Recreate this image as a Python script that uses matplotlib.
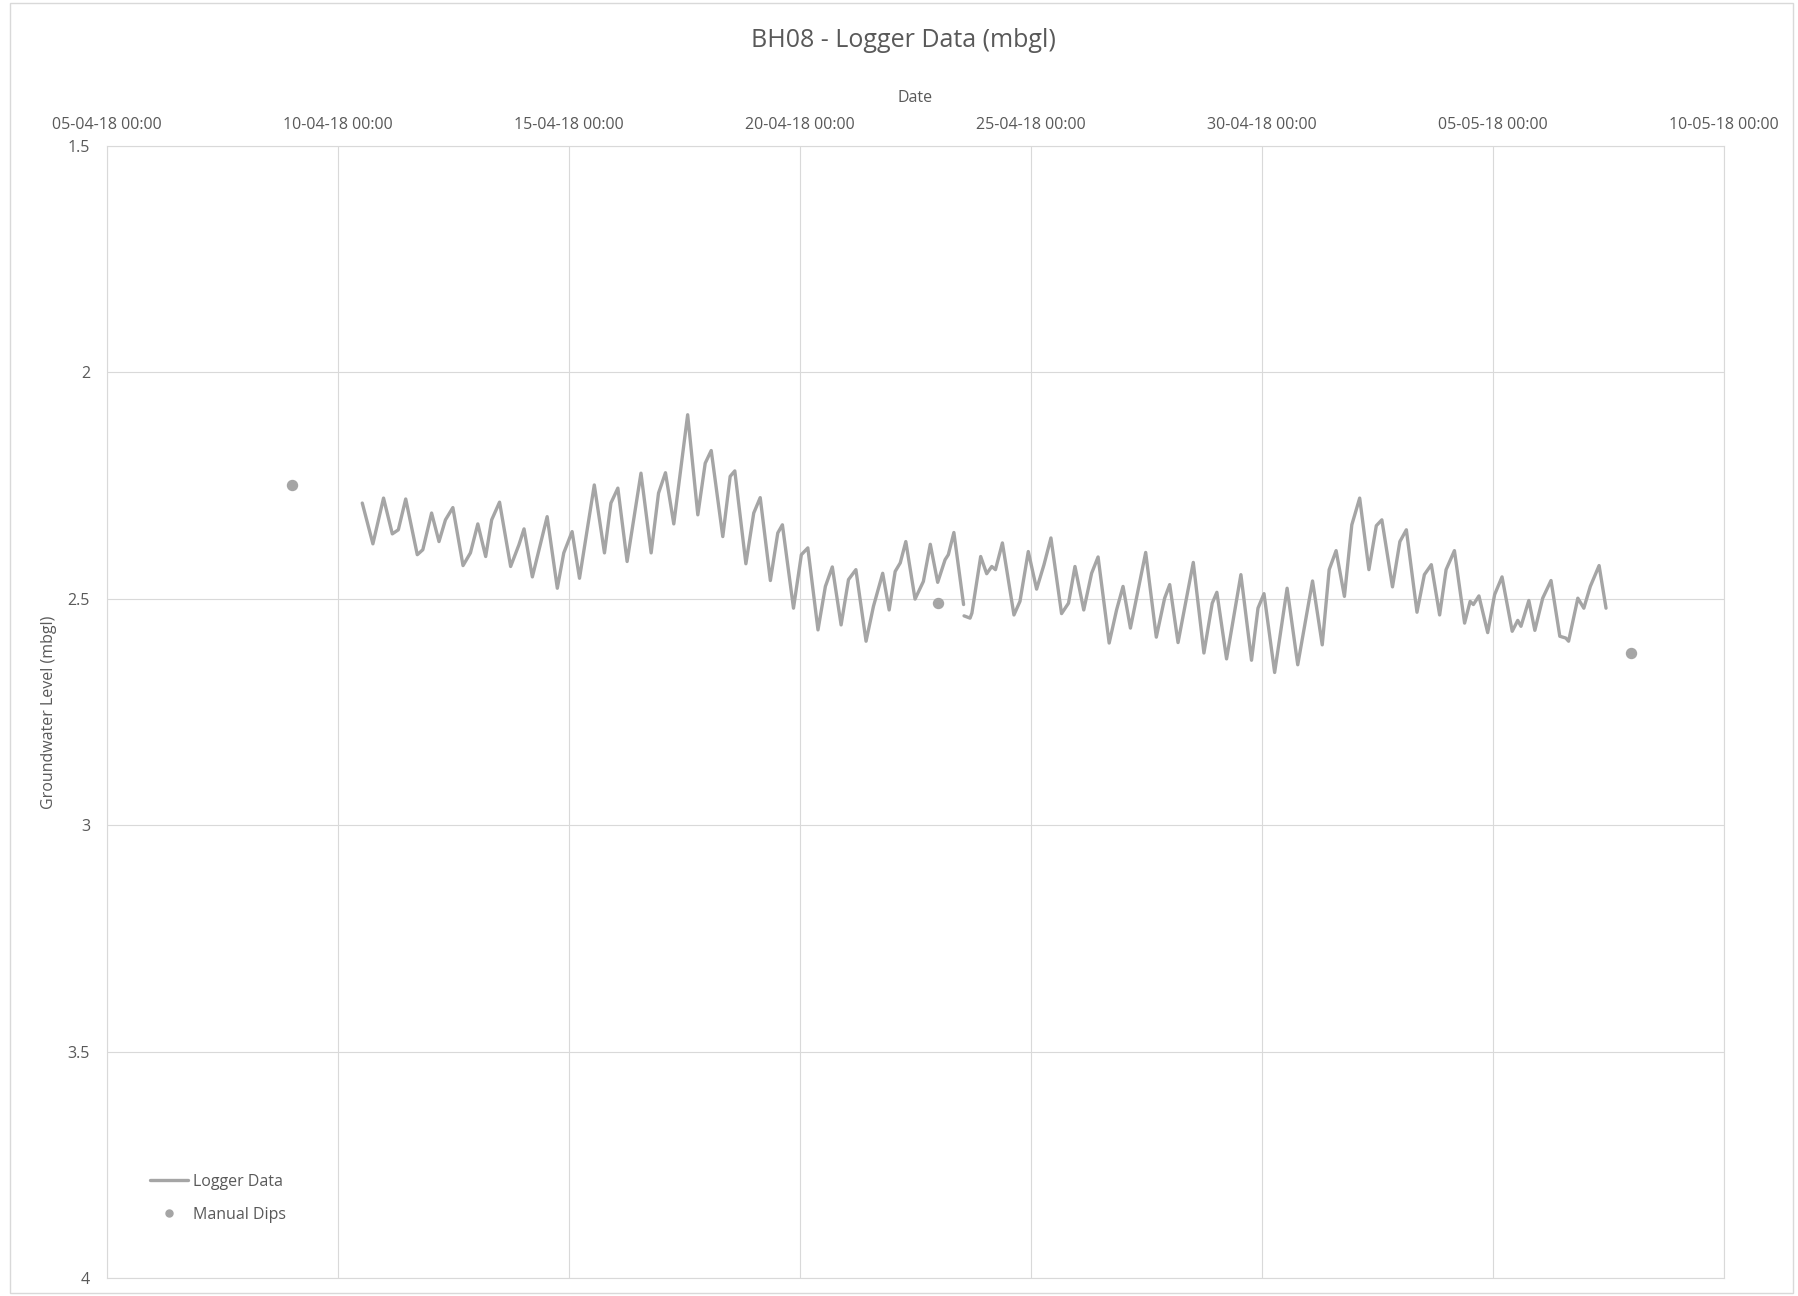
import numpy as np
import pandas as pd
import matplotlib
matplotlib.use('Agg')
from matplotlib import pyplot as plt
import matplotlib.dates as mdates
from matplotlib.patches import Rectangle

plt.rcParams['font.family'] = ['Open Sans', 'DejaVu Sans']

# logger readings: days after 10-04-18 00:00 and level (mbgl)
start = pd.Timestamp('2018-04-10 00:00')
logger_days = [0.53, 0.76, 0.99, 1.18, 1.31, 1.47, 1.72, 1.84, 2.03, 2.19, 2.33, 2.49,
               2.71, 2.87, 3.03, 3.20, 3.33, 3.50, 3.74, 3.92, 4.03, 4.21, 4.53, 4.75,
               4.89, 5.07, 5.23, 5.55, 5.77, 5.91, 6.06, 6.26, 6.56, 6.78, 6.94, 7.09,
               7.27, 7.57, 7.79, 7.95, 8.08, 8.33, 8.49, 8.59, 8.83, 9.00, 9.14, 9.36,
               9.52, 9.62, 9.86, 10.03, 10.17, 10.39, 10.55, 10.70, 10.89, 11.05, 11.21,
               11.43, 11.59, 11.79, 11.93, 12.06, 12.17, 12.29, 12.49, 12.67, 12.82,
               12.98, 13.14, 13.21, 13.33, 13.54, 13.545, 13.55, 13.68, 13.72, 13.91,
               14.04, 14.15, 14.23, 14.38, 14.63, 14.76, 14.94, 15.12, 15.28, 15.43,
               15.66, 15.81, 15.95, 16.14, 16.31, 16.45, 16.69, 16.85, 16.99, 17.15,
               17.48, 17.71, 17.89, 18.00, 18.18, 18.51, 18.74, 18.92, 19.02, 19.23,
               19.54, 19.77, 19.91, 20.04, 20.27, 20.54, 20.77, 21.09, 21.30, 21.45,
               21.60, 21.78, 21.94, 22.11, 22.31, 22.47, 22.59, 22.82, 22.98, 23.12,
               23.35, 23.51, 23.66, 23.84, 23.98, 24.16, 24.38, 24.50, 24.57, 24.69,
               24.88, 25.03, 25.19, 25.41, 25.53, 25.60, 25.77, 25.90, 26.07, 26.25,
               26.44, 26.57, 26.63, 26.83, 26.96, 27.10, 27.29, 27.44]
logger_level = [2.289, 2.379, 2.278, 2.357, 2.348, 2.280, 2.403, 2.392, 2.311, 2.374, 2.326, 2.299,
                2.427, 2.399, 2.335, 2.407, 2.326, 2.287, 2.429, 2.381, 2.346, 2.452, 2.319, 2.477,
                2.399, 2.352, 2.455, 2.249, 2.399, 2.289, 2.256, 2.418, 2.223, 2.399, 2.267, 2.222,
                2.335, 2.094, 2.315, 2.201, 2.173, 2.363, 2.230, 2.218, 2.423, 2.311, 2.277, 2.460,
                2.355, 2.337, 2.521, 2.403, 2.388, 2.569, 2.473, 2.430, 2.558, 2.458, 2.436,
                2.594, 2.517, 2.444, 2.525, 2.440, 2.421, 2.374, 2.501, 2.462, 2.380,
                2.464, 2.414, 2.403, 2.354, 2.513, np.nan, 2.538, 2.543, 2.532, 2.407,
                2.445, 2.429, 2.436, 2.377, 2.536, 2.506, 2.396, 2.479, 2.425, 2.366,
                2.533, 2.510, 2.429, 2.525, 2.444, 2.408, 2.598, 2.525, 2.473, 2.565,
                2.398, 2.585, 2.499, 2.469, 2.597, 2.420, 2.620, 2.510, 2.486, 2.633,
                2.447, 2.636, 2.521, 2.489, 2.663, 2.477, 2.646, 2.461, 2.602, 2.436,
                2.394, 2.495, 2.337, 2.278, 2.436, 2.339, 2.326, 2.474, 2.374, 2.348,
                2.530, 2.447, 2.425, 2.536, 2.436, 2.394, 2.554, 2.506, 2.513, 2.494,
                2.575, 2.491, 2.452, 2.572, 2.548, 2.561, 2.504, 2.570, 2.499, 2.460,
                2.583, 2.587, 2.594, 2.499, 2.521, 2.473, 2.427, 2.521]

# manual dips
dip_dates = ['2018-04-09 00:00', '2018-04-22 23:45', '2018-05-07 23:30']
dip_level = [2.249, 2.510, 2.620]

x_min, x_max = '2018-04-05', '2018-05-10'
y_ticks = [1.5, 2, 2.5, 3, 3.5, 4]

txt = '#595959'
grid = '#d9d9d9'
grey = '#a5a5a5'

logger_t = start + pd.to_timedelta(logger_days, unit='D')
dip_t = pd.to_datetime(dip_dates)

fig = plt.figure(figsize=(17.99, 12.96), dpi=100)
# chart border
fig.patches.append(Rectangle((0.0056, 0.0023), 0.9911, 0.9954, transform=fig.transFigure,
                             fill=False, edgecolor=grid, lw=1))
ax = fig.add_axes([0.0593, 0.0138, 0.8992, 0.8738])

ax.plot(logger_t, logger_level, color=grey, lw=2.4, label='Logger Data', zorder=3,
        solid_joinstyle='round', solid_capstyle='round')
ax.plot(dip_t, dip_level, 'o', color=grey, ms=7.2, label='Manual Dips', zorder=4)

ax.set_xlim(pd.Timestamp(x_min), pd.Timestamp(x_max))
ax.set_ylim(4, 1.5)
ax.set_yticks(y_ticks)
ax.set_yticklabels(['%g' % v for v in y_ticks])
ax.xaxis.set_major_locator(mdates.DayLocator(bymonthday=[5, 10, 15, 20, 25, 30]))
ax.xaxis.set_major_formatter(mdates.DateFormatter('%d-%m-%y %H:%M'))
ax.xaxis.tick_top()
ax.xaxis.set_label_position('top')

ax.grid(True, color=grid, lw=0.8)
ax.set_axisbelow(True)
for s in ax.spines.values():
    s.set_color(grid)
    s.set_linewidth(0.8)
ax.tick_params(axis='both', length=0, labelsize=11.5, colors=txt)
ax.tick_params(axis='x', pad=9)
ax.tick_params(axis='y', pad=12)

ax.set_xlabel('Date', fontsize=11.5, color=txt, labelpad=11)
ax.set_ylabel('Groundwater Level (mbgl)', fontsize=11.5, color=txt, labelpad=8)
fig.text(0.502, 0.969, 'BH08 - Logger Data (mbgl)', ha='center', va='center',
         fontsize=18, color=txt)

leg = ax.legend(loc='upper left', bbox_to_anchor=(0.0834, 0.0945), bbox_transform=fig.transFigure,
                frameon=False, fontsize=11.5, handlelength=2.4, handletextpad=0.3,
                labelspacing=1.07, borderpad=0, borderaxespad=0, markerscale=0.7)
for t in leg.get_texts():
    t.set_color(txt)

fig.savefig('out.png', dpi=100, facecolor='white')
